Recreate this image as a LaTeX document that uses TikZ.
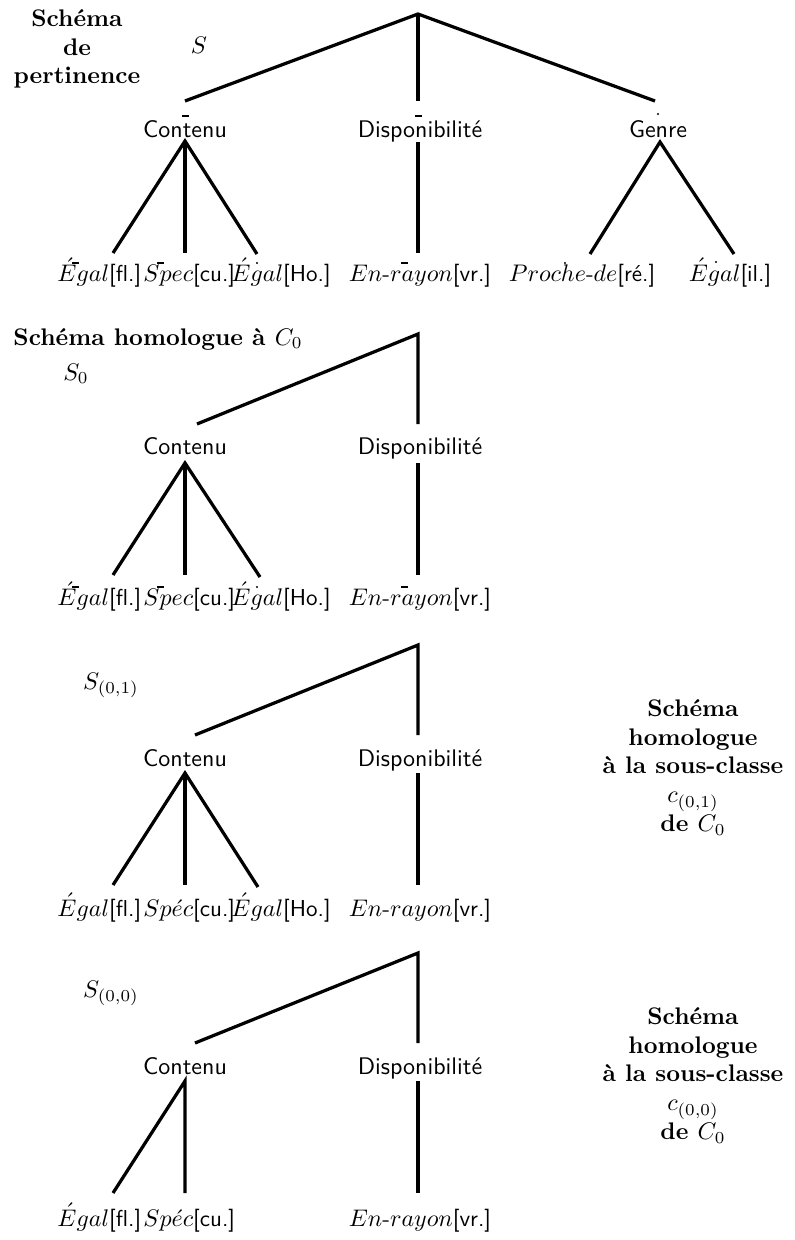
\documentclass[tikz,border=0pt]{standalone}
\usepackage{fontspec}
\begin{document}
\begin{tikzpicture}[x=0.4167pt,y=-0.4167pt,
  edge/.style={line width=1.35pt},
  cat/.style={font=\sffamily, inner sep=0pt, anchor=base},
  leaf/.style={font=\fontsize{9.6}{11.5}\selectfont, inner sep=0pt, anchor=base},
  leafw/.style={leaf, anchor=base west},
  heading/.style={font=\bfseries, inner sep=0pt, align=center, anchor=north},
  tag/.style={inner sep=0pt, anchor=base},
  accbar/.style={line width=0.5pt},
  accdot/.style={fill=black}]
\useasboundingbox (0,0) rectangle (794,1240);

% ---------- relevance schema S ----------
\node[heading] (h1) at (77,9) {Schéma\\de\\pertinence};
\node[tag] (s1) at (199,53) {$S$};
\coordinate (r1) at (418,14);
\node[cat] (c1) at (185,137) {Contenu};
\node[cat] (d1) at (420,137) {Disponibilité};
\node[cat] (g1) at (658,137) {Genre};
\coordinate (c1up) at (185,101);
\coordinate (d1up) at (418,101);
\coordinate (g1up) at (655,101);
\coordinate (c1dn) at (185,141);
\coordinate (d1dn) at (418,142);
\coordinate (g1dn) at (660,142);
\node[leafw] (e11) at (57,281) {$\acute{E}gal$\textsf{[fl.]}};
\node[leafw] (e12) at (143,281) {$Spec$\textsf{[cu.]}};
\node[leafw] (e13) at (231,281) {$\acute{E}gal$\textsf{[Ho.]}};
\node[leaf] (e14) at (420,281) {$En$-$rayon$\textsf{[vr.]}};
\node[leaf] (e15) at (582,281) {$Proche$-$de$\textsf{[ré.]}};
\node[leaf] (e16) at (730,281) {$\acute{E}gal$\textsf{[il.]}};
\coordinate (e11up) at (113,253);
\coordinate (e12up) at (185,253);
\coordinate (e13up) at (257,254);
\coordinate (e14up) at (418,253);
\coordinate (e15up) at (590,254);
\coordinate (e16up) at (734,254);
\draw[edge] (c1up) -- (r1) -- (g1up);
\draw[edge] (r1) -- (d1up);
\draw[edge] (e11up) -- (c1dn) -- (e13up);
\draw[edge] (c1dn) -- (e12up);
\draw[edge] (d1dn) -- (e14up);
\draw[edge] (e15up) -- (g1dn) -- (e16up);
% small marks above the labels
\draw[accbar] (182,116) -- ++(7,0);
\draw[accbar] (415,116) -- ++(7,0);
\fill[accdot] (658,114) circle (1.1);
\draw[accbar] (72,263) -- ++(7,0);
\draw[accbar] (157,263) -- ++(7,0);
\fill[accdot] (257,263) circle (1.1);
\draw[accbar] (401,263) -- ++(7,0);
\fill[accdot] (565,263) circle (1.1);
\fill[accdot] (716,262) circle (1.1);

% ---------- schema S_0 ----------
\node[heading, anchor=base west] (h2) at (13,345) {Schéma homologue à $C_0$};
\node[tag] (s2) at (76,380) {$S_0$};
\coordinate (r2) at (418,334);
\node[cat] (c2) at (185,454) {Contenu};
\node[cat] (d2) at (420,454) {Disponibilité};
\coordinate (c2up) at (197,424);
\coordinate (d2up) at (418,424);
\coordinate (c2dn) at (185,463);
\coordinate (d2dn) at (418,463);
\node[leafw] (e21) at (57,605) {$\acute{E}gal$\textsf{[fl.]}};
\node[leafw] (e22) at (143,605) {$Spec$\textsf{[cu.]}};
\node[leafw] (e23) at (231,605) {$\acute{E}gal$\textsf{[Ho.]}};
\node[leaf] (e24) at (420,605) {$En$-$rayon$\textsf{[vr.]}};
\coordinate (e21up) at (113,575);
\coordinate (e22up) at (185,575);
\coordinate (e23up) at (260,577);
\coordinate (e24up) at (418,575);
\draw[edge] (c2up) -- (r2) -- (d2up);
\draw[edge] (e21up) -- (c2dn) -- (e23up);
\draw[edge] (c2dn) -- (e22up);
\draw[edge] (d2dn) -- (e24up);
\draw[accbar] (72,587) -- ++(7,0);
\draw[accbar] (157,587) -- ++(7,0);
\fill[accdot] (257,587) circle (1.1);
\draw[accbar] (401,587) -- ++(7,0);

% ---------- schema S_(0,1) ----------
\node[tag] (s3) at (111,689) {$S_{(0,1)}$};
\coordinate (r3) at (418,645);
\node[cat] (c3) at (185,766) {Contenu};
\node[cat] (d3) at (420,766) {Disponibilité};
\coordinate (c3up) at (195,735);
\coordinate (d3up) at (418,735);
\coordinate (c3dn) at (185,773);
\coordinate (d3dn) at (418,773);
\node[leafw] (e31) at (57,916) {$\acute{E}gal$\textsf{[fl.]}};
\node[leafw] (e32) at (143,916) {$Sp\acute{e}c$\textsf{[cu.]}};
\node[leafw] (e33) at (231,916) {$\acute{E}gal$\textsf{[Ho.]}};
\node[leaf] (e34) at (420,916) {$En$-$rayon$\textsf{[vr.]}};
\coordinate (e31up) at (113,885);
\coordinate (e32up) at (185,885);
\coordinate (e33up) at (258,887);
\coordinate (e34up) at (418,885);
\draw[edge] (c3up) -- (r3) -- (d3up);
\draw[edge] (e31up) -- (c3dn) -- (e33up);
\draw[edge] (c3dn) -- (e32up);
\draw[edge] (d3dn) -- (e34up);
\node[heading] (h3) at (693,699) {Schéma\\homologue\\à la sous-classe\\$c_{(0,1)}$\\de $C_0$};

% ---------- schema S_(0,0) ----------
\node[tag] (s4) at (111,997) {$S_{(0,0)}$};
\coordinate (r4) at (418,953);
\node[cat] (c4) at (185,1074) {Contenu};
\node[cat] (d4) at (420,1074) {Disponibilité};
\coordinate (c4up) at (195,1043);
\coordinate (d4up) at (418,1043);
\coordinate (c4dn) at (185,1081);
\coordinate (d4dn) at (418,1081);
\node[leafw] (e41) at (57,1226) {$\acute{E}gal$\textsf{[fl.]}};
\node[leafw] (e42) at (143,1226) {$Sp\acute{e}c$\textsf{[cu.]}};
\node[leaf] (e44) at (420,1226) {$En$-$rayon$\textsf{[vr.]}};
\coordinate (e41up) at (113,1193);
\coordinate (e42up) at (185,1193);
\coordinate (e44up) at (418,1193);
\draw[edge] (c4up) -- (r4) -- (d4up);
\draw[edge] (e41up) -- (c4dn) -- (e42up);
\draw[edge] (d4dn) -- (e44up);
\node[heading] (h4) at (693,1007) {Schéma\\homologue\\à la sous-classe\\$c_{(0,0)}$\\de $C_0$};
\end{tikzpicture}
\end{document}
